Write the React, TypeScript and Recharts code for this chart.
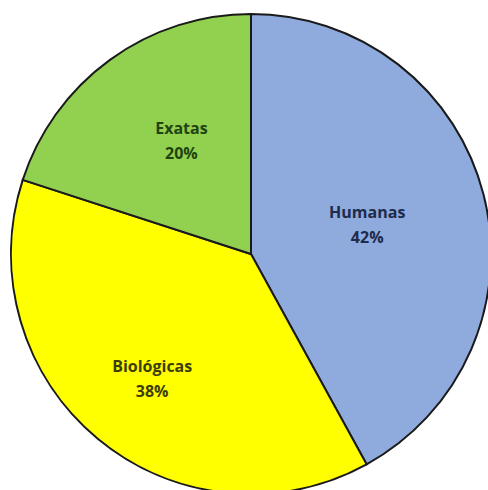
import { PieChart, Pie, Cell } from 'recharts';

const categories = ['Humanas', 'Biológicas', 'Exatas'];
const shares = [42, 38, 20];

const sliceColors = ['#8FAADC', '#FFFF00', '#92D050'];
const textColors = ['#1E2B4A', '#3D3D08', '#1F4410'];
// label placement: fraction of the radius, plus a small angular nudge (degrees)
const labelDepth = [0.5, 0.66, 0.555];
const labelNudge = [0, 1, -4.5];

const data = categories.map((name, i) => ({ name, value: shares[i] }));

const RADIAN = Math.PI / 180;

function renderLabel(props: any) {
  const { cx, cy, midAngle, outerRadius, index, name, value } = props;
  const r = outerRadius * labelDepth[index];
  const a = (midAngle + labelNudge[index]) * RADIAN;
  const x = cx + r * Math.cos(-a);
  const y = cy + r * Math.sin(-a);
  return (
    <text
      x={x}
      y={y}
      textAnchor="middle"
      fill={textColors[index]}
      fontFamily="'Open Sans', sans-serif"
      fontWeight={700}
      fontSize={16}
    >
      <tspan x={x} dy={-6}>{name}</tspan>
      <tspan x={x} dy={25}>{`${value}%`}</tspan>
    </text>
  );
}

export default function App() {
  return (
    <div style={{ position: 'absolute', left: 0, top: 0, width: 488, height: 490, background: '#fff' }}>
      <PieChart width={488} height={490} margin={{ top: 0, right: 0, bottom: 0, left: 0 }}>
        <Pie
          data={data}
          dataKey="value"
          nameKey="name"
          cx={251}
          cy={254}
          outerRadius={240}
          startAngle={90}
          endAngle={-270}
          stroke="#1a1a1a"
          strokeWidth={2}
          label={renderLabel}
          labelLine={false}
          isAnimationActive={false}
        >
          {data.map((d, i) => (
            <Cell key={d.name} fill={sliceColors[i]} />
          ))}
        </Pie>
      </PieChart>
    </div>
  );
}
